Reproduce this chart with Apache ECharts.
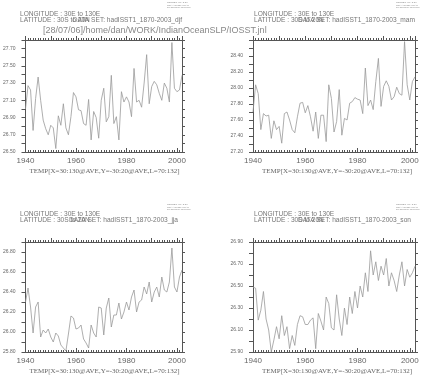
<!DOCTYPE html>
<html>
<head>
<meta charset="utf-8">
<script src="https://cdn.jsdelivr.net/npm/echarts@6/dist/echarts.min.js"></script>
<style>
  html, body { margin: 0; padding: 0; background: #fff; }
  #chart { width: 432px; height: 377px; }
</style>
</head>
<body>
<div id="chart"></div>
<script>
// years L=70:132
const years = [1940, 1941, 1942, 1943, 1944, 1945, 1946, 1947, 1948, 1949,
  1950, 1951, 1952, 1953, 1954, 1955, 1956, 1957, 1958, 1959,
  1960, 1961, 1962, 1963, 1964, 1965, 1966, 1967, 1968, 1969,
  1970, 1971, 1972, 1973, 1974, 1975, 1976, 1977, 1978, 1979,
  1980, 1981, 1982, 1983, 1984, 1985, 1986, 1987, 1988, 1989,
  1990, 1991, 1992, 1993, 1994, 1995, 1996, 1997, 1998, 1999,
  2000, 2001, 2002];

const djf = [27.0, 27.27, 27.22, 26.75, 27.12, 27.37, 27.1, 26.87, 26.77, 26.7,
  26.81, 26.78, 26.54, 26.92, 26.81, 27.06, 26.78, 26.7, 26.91, 27.19,
  27.14, 26.99, 26.98, 26.83, 26.81, 27.11, 26.64, 26.97, 26.9, 26.66,
  27.1, 27.24, 26.85, 26.91, 27.39, 26.83, 26.91, 26.64, 27.2, 27.08,
  27.14, 27.08, 26.91, 27.47, 27.08, 27.1, 27.02, 27.3, 27.63, 27.06,
  27.26, 27.32, 27.28, 27.18, 27.1, 27.3, 27.24, 27.08, 27.77, 27.24,
  27.2, 27.22, 27.39];

const mam = [27.70, 28.04, 27.93, 27.48, 27.68, 27.65, 27.66, 27.37, 27.59, 27.48,
  27.52, 27.31, 27.68, 27.70, 27.6, 27.48, 27.44, 27.64, 27.81, 27.82,
  27.69, 27.78, 27.64, 27.46, 27.70, 27.37, 27.66, 27.66, 27.33, 28.04,
  27.87, 27.45, 27.58, 27.98, 27.41, 27.62, 27.6, 27.81, 27.83, 27.88,
  27.86, 27.85, 27.68, 28.25, 27.78, 27.85, 27.73, 28.08, 28.37, 27.77,
  28.02, 28.09, 28.02, 27.85, 27.89, 28.01, 27.93, 27.91, 28.58, 28.04,
  27.85, 28.08, 28.14];

const jja = [26.30, 26.44, 26.25, 25.99, 26.25, 26.30, 25.95, 26.02, 25.99, 26.03,
  25.95, 25.90, 25.99, 25.96, 25.87, 25.84, 25.81, 25.98, 26.16, 26.14,
  26.03, 26.04, 26.07, 25.93, 25.89, 25.84, 26.07, 25.99, 25.95, 26.25,
  26.24, 25.97, 26.24, 26.34, 26.05, 26.17, 26.17, 26.29, 26.13, 26.2,
  26.3, 26.22, 26.35, 26.42, 26.2, 26.3, 26.32, 26.45, 26.38, 26.5,
  26.3, 26.4, 26.45, 26.35, 26.55, 26.42, 26.4, 26.5, 26.84, 26.45,
  26.4, 26.55, 26.62];

const son = [26.49, 26.48, 26.19, 26.28, 26.45, 26.2, 26.1, 25.9, 26.01, 26.13,
  26.02, 26.23, 26.05, 26.13, 25.93, 26.05, 25.96, 26.15, 26.23, 26.22,
  26.15, 26.15, 26.19, 26.21, 25.93, 26.25, 26.18, 26.1, 26.4, 26.34,
  26.12, 26.1, 26.42, 26.2, 26.05, 26.3, 26.15, 26.4, 26.25, 26.45,
  26.3, 26.5, 26.4, 26.62, 26.45, 26.82, 26.6, 26.72, 26.55, 26.68,
  26.6, 26.75, 26.5, 26.62, 26.55, 26.45, 26.6, 26.72, 26.5, 26.65,
  26.58, 26.62, 26.68];

const yLabels1 = ['26.50', '26.70', '26.90', '27.10', '27.30', '27.50', '27.70'];
const yLabels2 = ['27.20', '27.40', '27.60', '27.80', '28.00', '28.20', '28.40'];
const yLabels3 = ['25.80', '26.00', '26.20', '26.40', '26.60', '26.80'];
const yLabels4 = ['25.90', '26.10', '26.30', '26.50', '26.70', '26.90'];

const seasons = ['djf', 'mam', 'jja', 'son'];
const xTitle = 'TEMP[X=30:130@AVE,Y=-30:20@AVE,L=70:132]';

const panels = [
  { data: djf, ymin: 26.5, ymax: 27.8, labels: yLabels1, left: 21, top: 40, width: 161, height: 112 },
  { data: mam, ymin: 27.2, ymax: 28.6, labels: yLabels2, left: 253, top: 40, width: 162, height: 112 },
  { data: jja, ymin: 25.8, ymax: 26.9, labels: yLabels3, left: 21, top: 242, width: 161, height: 110 },
  { data: son, ymin: 25.9, ymax: 26.9, labels: yLabels4, left: 253, top: 242, width: 162, height: 110 }
];

const axisCol = '#555';
const textCol = '#666';
const hdrFont = '6.6px "Liberation Sans"';

let grids = [], xAxes = [], yAxes = [], series = [], graphics = [];

panels.forEach((p, i) => {
  grids.push({ left: p.left, top: p.top, width: p.width, height: p.height });
  let base = { type: 'value', gridIndex: i, min: 1940, max: 2002, splitLine: { show: false } };
  let xi = xAxes.length;
  // labelled bottom axis
  xAxes.push(Object.assign({}, base, {
    position: 'bottom', interval: 20,
    axisLine: { lineStyle: { color: axisCol, width: 1 } },
    axisTick: { inside: true, length: 4, lineStyle: { color: axisCol } },
    axisLabel: { color: textCol, fontSize: 8, fontFamily: 'Liberation Sans', margin: 5,
      showMaxLabel: false, formatter: v => String(v) }
  }));
  // yearly ticks bottom
  xAxes.push(Object.assign({}, base, {
    position: 'bottom', interval: 1,
    axisLine: { show: false },
    axisTick: { inside: true, length: 2, lineStyle: { color: axisCol } },
    axisLabel: { show: false }
  }));
  // top border, yearly ticks
  xAxes.push(Object.assign({}, base, {
    position: 'top', interval: 1,
    axisLine: { lineStyle: { color: axisCol, width: 1 } },
    axisTick: { length: 2, lineStyle: { color: axisCol } },
    axisLabel: { show: false }
  }));
  // top decade ticks
  xAxes.push(Object.assign({}, base, {
    position: 'top', interval: 10,
    axisLine: { show: false },
    axisTick: { length: 4, lineStyle: { color: axisCol } },
    axisLabel: { show: false }
  }));

  let yi = yAxes.length;
  let ybase = { type: 'value', gridIndex: i, min: p.ymin, max: p.ymax, interval: 0.1, splitLine: { show: false } };
  yAxes.push(Object.assign({}, ybase, {
    position: 'left',
    axisLine: { show: true, lineStyle: { color: axisCol, width: 1 } },
    axisTick: { show: true, length: 4, lineStyle: { color: axisCol } },
    axisLabel: {
      color: textCol, fontSize: 5, fontFamily: 'Liberation Sans', margin: 10,
      formatter: v => p.labels.includes(v.toFixed(2)) ? v.toFixed(2) : ''
    }
  }));
  yAxes.push(Object.assign({}, ybase, {
    position: 'right',
    axisLine: { show: true, lineStyle: { color: axisCol, width: 1 } },
    axisTick: { show: true, length: 3, lineStyle: { color: axisCol } },
    axisLabel: { show: false }
  }));

  series.push({
    type: 'line', xAxisIndex: xi, yAxisIndex: yi,
    data: years.map((y, k) => [y, p.data[k]]),
    showSymbol: false,
    lineStyle: { color: '#999', width: 0.8 }
  });

  // header texts
  let hx = p.left - 1 + (i % 2 ? 2 : 0);
  let hy = i < 2 ? 11 : 211;
  graphics.push({ type: 'text', left: hx, top: hy,
    style: { text: 'LONGITUDE : 30E to 130E', fill: '#777', font: hdrFont } });
  graphics.push({ type: 'text', left: hx, top: hy + 5.5,
    style: { text: 'LATITUDE : 30S to 20N', fill: '#777', font: hdrFont } });
  let dsRight = 432 - (p.left + p.width) + (i === 2 ? 4 : 0) + (i === 3 ? 4 : 0);
  graphics.push({ type: 'text', right: dsRight, top: hy + 5.5,
    style: { text: 'DATA SET: hadISST1_1870-2003_' + seasons[i], fill: '#777', font: hdrFont } });
  // ferret stamp
  let sx = i % 2 ? 396 : 167;
  let sy = i < 2 ? 1 : 203;
  graphics.push({ type: 'text', left: sx, top: sy,
    style: { text: 'FERRET Ver. 5.80\nNOAA/PMEL TMAP\nJul 28 2006 15:00:53', fill: '#888',
      font: '2.5px "Liberation Sans"', align: 'center', lineHeight: 2.5, x: 14 } });
  // axis title
  graphics.push({ type: 'text', left: p.left + p.width / 2 - 72, top: p.top + p.height + 16,
    style: { text: xTitle, fill: '#666', font: '7px "Liberation Serif"' } });
});

graphics.push({ type: 'text', left: 43, top: 26,
  style: { text: '[28/07/06]/home/dan/WORK/IndianOceanSLP/IOSST.jnl', fill: '#888', font: '9px "Liberation Sans"' } });

const chart = echarts.init(document.getElementById('chart'));
chart.setOption({
  animation: false,
  backgroundColor: '#fff',
  grid: grids,
  xAxis: xAxes,
  yAxis: yAxes,
  series: series,
  graphic: graphics
});
</script>
</body>
</html>
